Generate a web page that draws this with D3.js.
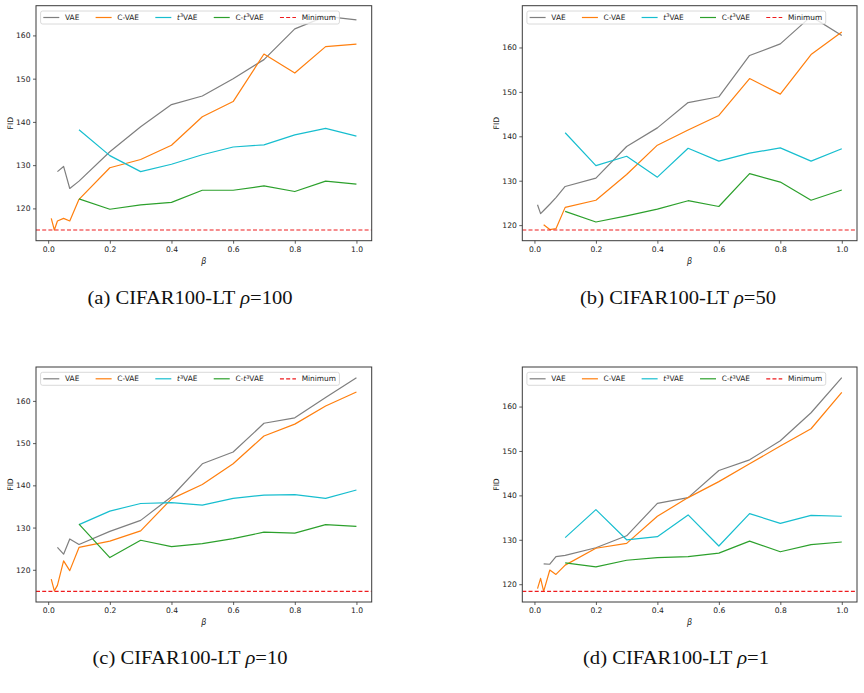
<!DOCTYPE html>
<html>
<head>
<meta charset="utf-8">
<script src="https://cdn.jsdelivr.net/npm/d3@7"></script>
<style>
  body { margin: 0; background: #fff; }
  svg { display: block; }
</style>
</head>
<body>
<div id="viscontainer"></div>
<script>
// beta values; each series is aligned to the END of this list
const betas = [0.01, 0.02, 0.03, 0.05, 0.07, 0.1, 0.2, 0.3, 0.4, 0.5, 0.6, 0.7, 0.8, 0.9, 1.0];

const seriesNames = ["VAE", "C-VAE", "t3VAE", "C-t3VAE"];
const xTicks = [0, 0.2, 0.4, 0.6, 0.8, 1.0];
const yTicks = [120, 130, 140, 150, 160];

// (a) rho = 100
const vaeA  = [128.5, 129.7, 124.6, 126.3, 133.1, 138.9, 144.0, 146.0, 150.0, 154.4, 161.5, 164.4, 163.6];
const cvaeA = [117.7, 115.0, 117.1, 117.7, 117.1, 122.1, 129.4, 131.3, 134.6, 141.2, 144.7, 155.7, 151.3, 157.4, 158.0];
const t3A   = [138.2, 132.2, 128.5, 130.2, 132.4, 134.2, 134.7, 137.0, 138.5, 136.7];
const ct3A  = [122.2, 119.8, 120.8, 121.4, 124.2, 124.2, 125.2, 123.9, 126.3, 125.6];
const minA  = 115.0;

// (b) rho = 50
const vaeB  = [124.6, 122.6, 123.3, 124.7, 126.2, 128.7, 130.6, 137.7, 141.9, 147.6, 148.9, 158.2, 160.8, 167.0, 162.7];
const cvaeB = [120.1, 119.0, 119.2, 124.0, 125.6, 131.4, 138.0, 141.4, 144.7, 153.0, 149.5, 158.4, 163.5];
const t3B   = [140.8, 133.4, 135.5, 130.8, 137.3, 134.4, 136.2, 137.4, 134.4, 137.2];
const ct3B  = [123.1, 120.7, 122.1, 123.6, 125.5, 124.2, 131.6, 129.7, 125.6, 127.9];
const minB  = 118.9;

// (c) rho = 10
const vaeC  = [125.3, 123.7, 127.3, 126.0, 129.1, 131.7, 137.3, 145.1, 147.9, 154.7, 156.0, 160.8, 165.5];
const cvaeC = [117.8, 115.0, 116.3, 122.1, 119.8, 125.3, 126.8, 129.2, 136.8, 140.2, 145.1, 151.7, 154.5, 158.8, 162.1];
const t3C   = [130.7, 133.9, 135.7, 135.9, 135.3, 136.9, 137.7, 137.8, 136.9, 138.9];
const ct3C  = [130.8, 122.9, 127.0, 125.5, 126.2, 127.4, 128.9, 128.7, 130.7, 130.3];
const minC  = 114.9;

// (d) rho = 1
const vaeD  = [124.6, 124.5, 126.2, 126.5, 128.2, 130.9, 138.2, 139.5, 145.6, 148.0, 152.3, 158.6, 166.5];
const cvaeD = [119.0, 121.3, 118.4, 123.2, 122.2, 124.3, 128.1, 129.2, 135.3, 139.5, 143.1, 147.1, 151.1, 155.0, 163.2];
const t3D   = [130.5, 136.8, 130.0, 130.7, 135.6, 128.6, 135.9, 133.7, 135.5, 135.3];
const ct3D  = [124.8, 123.9, 125.4, 126.0, 126.2, 127.0, 129.7, 127.3, 128.9, 129.5];
const minD  = 118.4;

const captions = ["(a) CIFAR100-LT ", "(b) CIFAR100-LT ", "(c) CIFAR100-LT ", "(d) CIFAR100-LT "];
const rhos = ["100", "50", "10", "1"];

const width = 864;
const height = 693;
const colors = ["#7f7f7f", "#ff7f0e", "#17becf", "#2ca02c"];
const minColor = "#ee1c1f";
const tickFont = "DejaVu Sans, sans-serif";

const svg = d3.select("#viscontainer")
  .append("svg")
  .attr("width", width)
  .attr("height", height)
  .style("background", "#fff");

// frame boxes of the four axes
const panels = [
  { x0: 36,    x1: 371.7, y0: 5.7, y1: 240.7, series: [vaeA, cvaeA, t3A, ct3A], min: minA, capX: 190, capY: 304, capW: 205 },
  { x0: 522.3, x1: 857,   y0: 5.7, y1: 240.7, series: [vaeB, cvaeB, t3B, ct3B], min: minB, capX: 678, capY: 304, capW: 196 },
  { x0: 36,    x1: 371.7, y0: 367, y1: 602,   series: [vaeC, cvaeC, t3C, ct3C], min: minC, capX: 190, capY: 664, capW: 195 },
  { x0: 522.3, x1: 857,   y0: 367, y1: 602,   series: [vaeD, cvaeD, t3D, ct3D], min: minD, capX: 676, capY: 664, capW: 186 }
];

function withBeta(values) {
  const xs = betas.slice(betas.length - values.length);
  return values.map((v, i) => ({ x: xs[i], y: v }));
}

function drawPanel(p, idx) {
  const g = svg.append("g");

  const xExt = d3.extent(betas);
  const xPad = (xExt[1] - xExt[0]) * 0.05;
  const x = d3.scaleLinear().domain([xExt[0] - xPad, xExt[1] + xPad]).range([p.x0, p.x1]);

  const allY = p.series.flat().concat([p.min]);
  const yExt = d3.extent(allY);
  const yPad = (yExt[1] - yExt[0]) * 0.05;
  const y = d3.scaleLinear().domain([yExt[0] - yPad, yExt[1] + yPad]).range([p.y1, p.y0]);

  const clipId = "clip" + idx;
  g.append("clipPath").attr("id", clipId)
    .append("rect")
    .attr("x", p.x0).attr("y", p.y0)
    .attr("width", p.x1 - p.x0).attr("height", p.y1 - p.y0);

  const plot = g.append("g").attr("clip-path", `url(#${clipId})`);

  const line = d3.line().x(d => x(d.x)).y(d => y(d.y));

  p.series.forEach((vals, i) => {
    plot.append("path")
      .datum(withBeta(vals))
      .attr("d", line)
      .attr("fill", "none")
      .attr("stroke", colors[i])
      .attr("stroke-width", 1.2)
      .attr("stroke-linejoin", "round");
  });

  plot.append("line")
    .attr("x1", p.x0).attr("x2", p.x1)
    .attr("y1", y(p.min)).attr("y2", y(p.min))
    .attr("stroke", minColor)
    .attr("stroke-width", 1.2)
    .attr("stroke-dasharray", "4,2.2");

  // axes
  const xAxis = g.append("g")
    .attr("transform", `translate(0,${p.y1})`)
    .call(d3.axisBottom(x).tickValues(xTicks).tickFormat(d3.format(".1f")).tickSize(3).tickPadding(2.5));
  const yAxis = g.append("g")
    .attr("transform", `translate(${p.x0},0)`)
    .call(d3.axisLeft(y).tickValues(yTicks).tickFormat(d3.format("d")).tickSize(3).tickPadding(2.5));

  [xAxis, yAxis].forEach(a => {
    a.select(".domain").remove();
    a.selectAll(".tick line").attr("stroke", "#333").attr("stroke-width", 0.8);
    a.selectAll(".tick text")
      .attr("fill", "#222")
      .style("font-family", tickFont)
      .style("font-size", "7.6px");
  });

  // frame
  g.append("rect")
    .attr("x", p.x0).attr("y", p.y0)
    .attr("width", p.x1 - p.x0).attr("height", p.y1 - p.y0)
    .attr("fill", "none")
    .attr("stroke", "#3a3a3a")
    .attr("stroke-width", 1);

  // axis labels
  g.append("text")
    .attr("transform", `translate(${p.x0 - 23.5},${(p.y0 + p.y1) / 2}) rotate(-90)`)
    .attr("text-anchor", "middle")
    .style("font-family", tickFont)
    .style("font-size", "7.6px")
    .attr("fill", "#222")
    .text("FID");

  g.append("text")
    .attr("x", (p.x0 + p.x1) / 2)
    .attr("y", p.y1 + 23)
    .attr("text-anchor", "middle")
    .style("font-family", tickFont)
    .style("font-size", "8px")
    .style("font-style", "italic")
    .attr("fill", "#222")
    .text("β");

  drawLegend(g, p);

  // caption
  const cap = svg.append("text")
    .attr("x", p.capX)
    .attr("y", p.capY)
    .attr("text-anchor", "middle")
    .style("font-family", "Liberation Serif, serif")
    .style("font-size", "18px")
    .attr("fill", "#111")
    .attr("textLength", p.capW)
    .attr("lengthAdjust", "spacingAndGlyphs");
  cap.append("tspan").text(captions[idx]);
  cap.append("tspan").style("font-style", "italic").text("ρ");
  cap.append("tspan").text("=" + rhos[idx]);
}

function legendLabel(t, name) {
  if (name === "t3VAE" || name === "C-t3VAE") {
    if (name === "C-t3VAE") t.append("tspan").text("C-");
    t.append("tspan").style("font-style", "italic").text("t");
    t.append("tspan").attr("dy", -2.8).style("font-size", "5px").text("3");
    t.append("tspan").attr("dy", 2.8).text("VAE");
  } else {
    t.text(name);
  }
}

function drawLegend(g, p) {
  const lx = p.x0 + 4.6;
  const ly = p.y0 + 5.3;
  const lh = 13;
  const box = g.append("rect")
    .attr("x", lx).attr("y", ly)
    .attr("height", lh)
    .attr("rx", 2)
    .attr("fill", "#fff")
    .attr("fill-opacity", 0.8)
    .attr("stroke", "#d0d0d0")
    .attr("stroke-width", 0.8);

  const items = seriesNames.map((n, i) => ({ name: n, color: colors[i], dash: null }))
    .concat([{ name: "Minimum", color: minColor, dash: "4,2.2" }]);

  const gap = 16.3;
  let cx = lx + 2.7;
  const cy = ly + lh / 2;
  items.forEach(it => {
    g.append("line")
      .attr("x1", cx).attr("x2", cx + 16)
      .attr("y1", cy).attr("y2", cy)
      .attr("stroke", it.color)
      .attr("stroke-width", 1.2)
      .attr("stroke-dasharray", it.dash);
    const t = g.append("text")
      .attr("x", cx + 21.7)
      .attr("y", cy)
      .attr("dy", "0.35em")
      .style("font-family", tickFont)
      .style("font-size", "7.4px")
      .attr("fill", "#222");
    legendLabel(t, it.name);
    const w = t.node().getComputedTextLength();
    cx = cx + 21.7 + w + gap;
  });
  box.attr("width", cx - gap - lx + 3.5);
}

panels.forEach(drawPanel);

// page number fragment at the bottom edge (cut off as in the source page)
svg.append("text")
  .attr("x", 819)
  .attr("y", 701)
  .style("font-family", "Liberation Serif, serif")
  .style("font-size", "12px")
  .attr("fill", "#111")
  .text("2");
</script>
</body>
</html>
